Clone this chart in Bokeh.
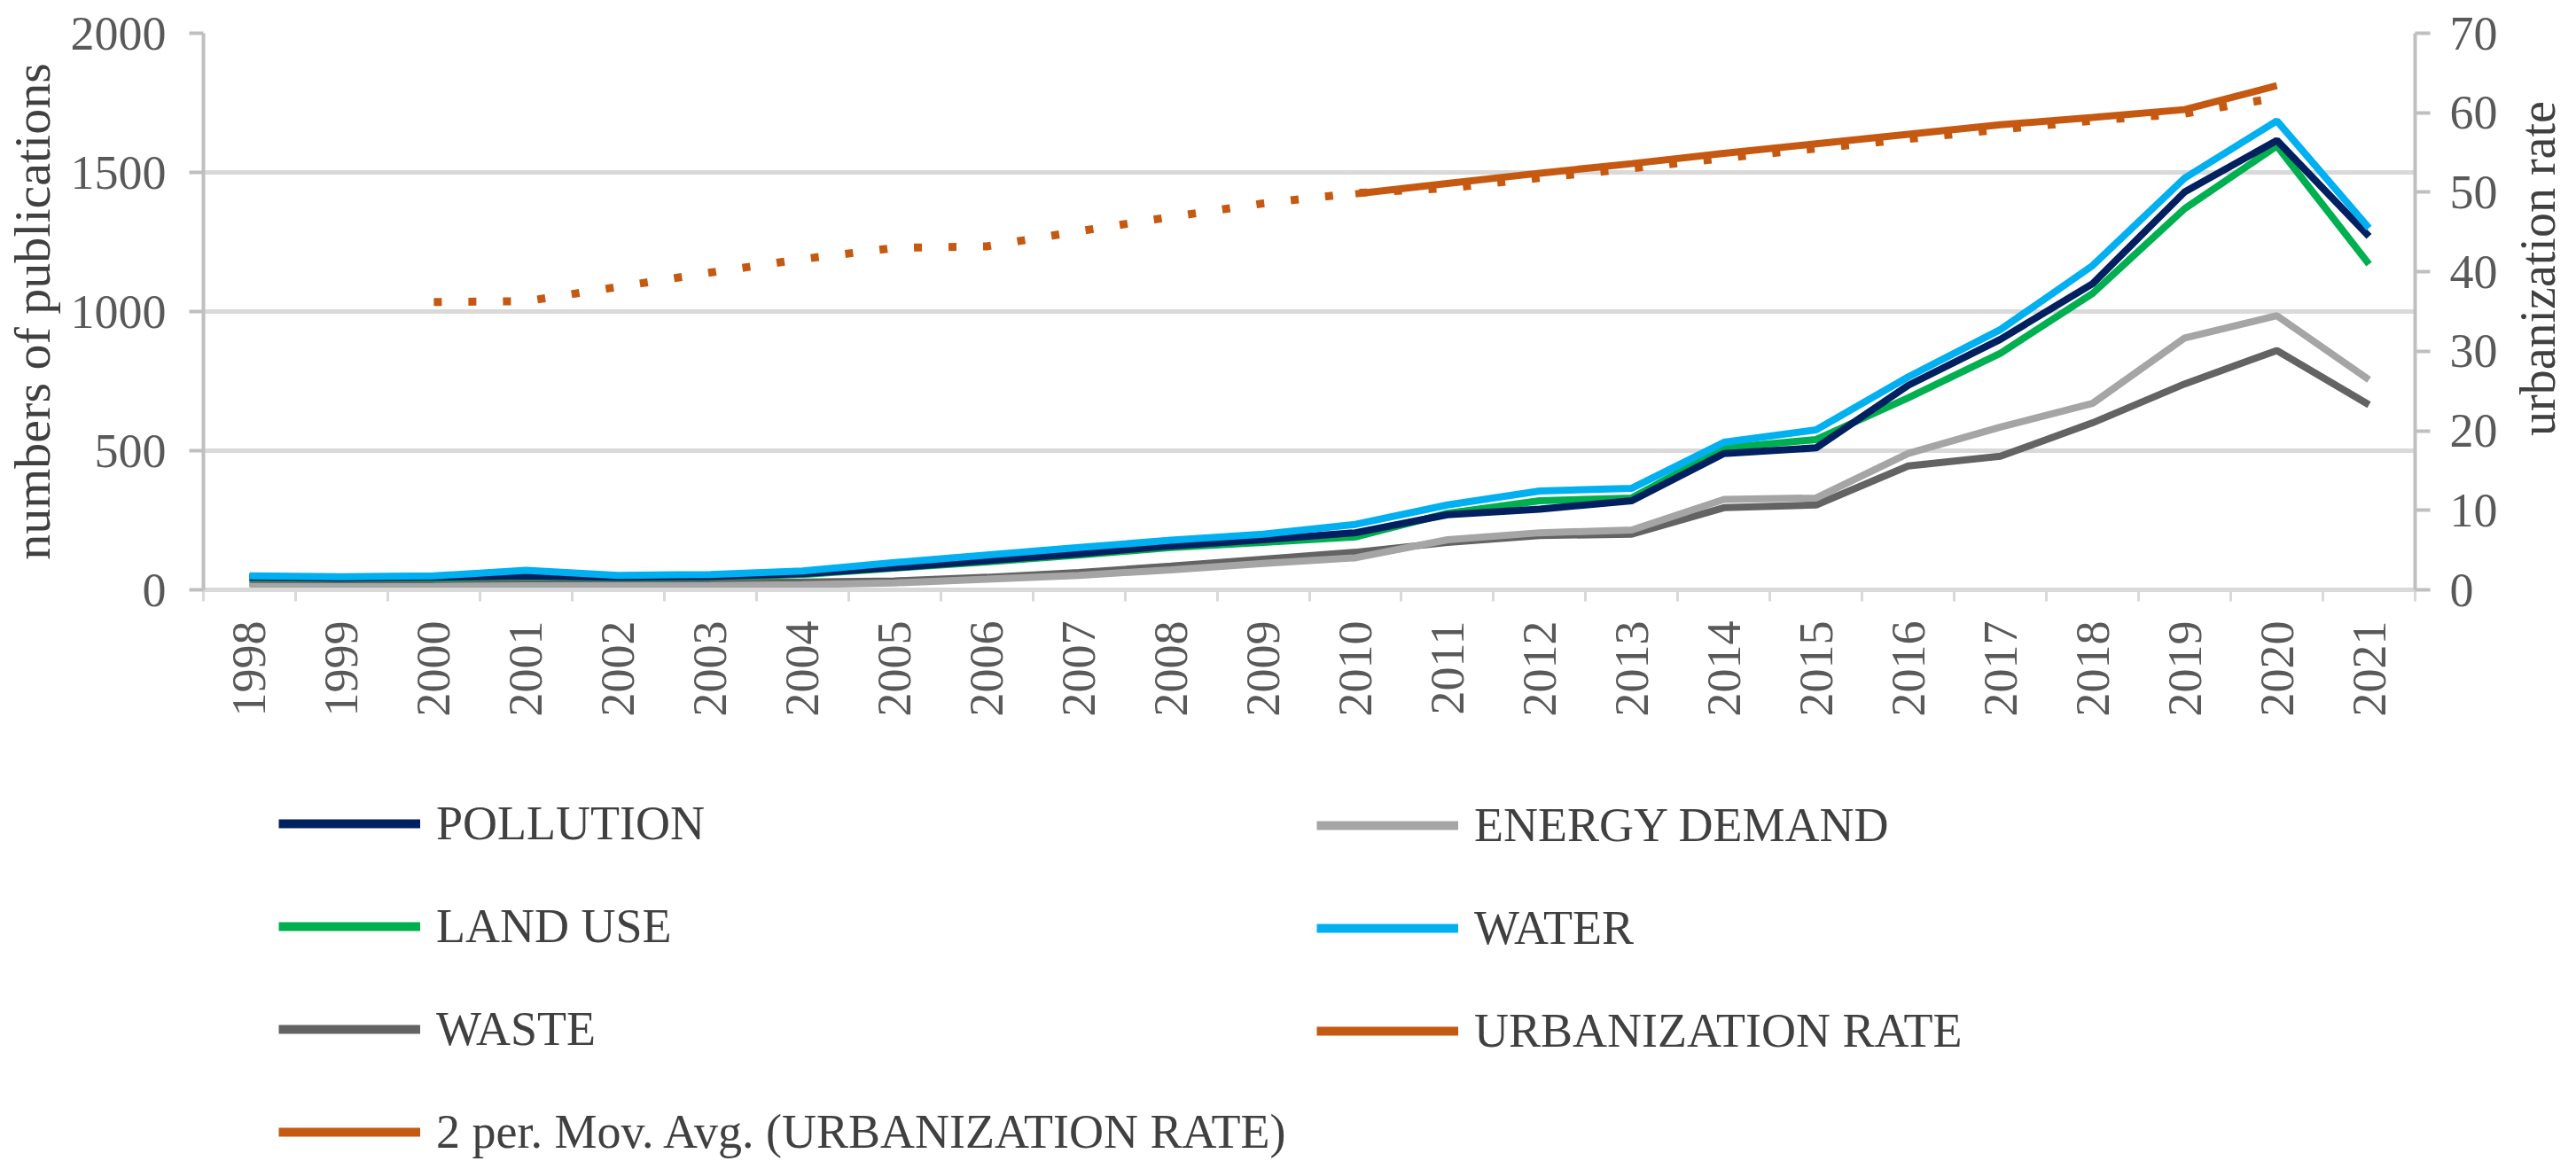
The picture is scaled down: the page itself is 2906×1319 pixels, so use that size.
import math
from bokeh.plotting import figure
from bokeh.layouts import column, row
from bokeh.models import (Range1d, LinearAxis, FixedTicker, Legend, LegendItem,
                          NumeralTickFormatter)
from bokeh.core.properties import value
from bokeh.embed import file_html
from bokeh.resources import INLINE

# ---------------- data ----------------
years = list(range(1998, 2022))
pollution = [45, 42, 45, 50, 45, 48, 58, 80, 105, 130, 158, 180, 205, 270, 290, 320,
             490, 510, 735, 900, 1100, 1430, 1615, 1270]
energy_demand = [12, 11, 12, 14, 14, 15, 18, 25, 38, 52, 72, 95, 115, 180, 205, 215,
                 325, 330, 490, 585, 670, 905, 985, 755]
land_use = [42, 40, 42, 48, 44, 46, 55, 78, 100, 125, 152, 170, 190, 275, 320, 330,
            510, 540, 690, 850, 1065, 1370, 1595, 1170]
water = [50, 47, 50, 70, 52, 55, 68, 98, 125, 152, 178, 200, 235, 305, 355, 365,
         530, 575, 765, 935, 1165, 1480, 1685, 1300]
waste = [25, 22, 24, 26, 26, 27, 28, 32, 45, 62, 85, 110, 135, 170, 195, 200,
         295, 305, 445, 480, 600, 740, 860, 665]

urb_years = list(range(2010, 2021))
urbanization_rate = [49.8, 51.1, 52.4, 53.6, 54.9, 56.1, 57.3, 58.5, 59.4, 60.4, 63.4]

ma_years = list(range(2000, 2021))
mov_avg_urbanization = [36.2, 36.3, 38.1, 39.9, 41.6, 43.0, 43.2, 45.1, 46.9, 48.6, 49.9,
                        50.5, 51.8, 53.0, 54.3, 55.5, 56.7, 57.9, 59.0, 59.9, 61.9]

left_ticks = [0, 500, 1000, 1500, 2000]
right_ticks = [0, 10, 20, 30, 40, 50, 60, 70]

series_names = ["POLLUTION", "ENERGY DEMAND", "LAND USE", "WATER", "WASTE",
                "URBANIZATION RATE", "2 per. Mov. Avg. (URBANIZATION RATE)"]
left_title = "numbers of publications"
right_title = "urbanization rate"

# ---------------- styling ----------------
FONT = "Liberation Serif"
TICK_COLOR = "#595959"
TITLE_COLOR = "#404040"
AXIS_GRAY = "#bfbfbf"
GRID_GRAY = "#d9d9d9"
NAVY = "#002060"
LIGHT_GRAY = "#a5a5a5"
GREEN = "#00b050"
BLUE = "#00b0f0"
DARK_GRAY = "#636363"
ORANGE = "#c65911"

MAIN_W, MAIN_H = 2820, 830
RT_W = 78
LEG_H = 480
BORDER_TOP, BORDER_BOTTOM = 37, 165

p = figure(width=MAIN_W, height=MAIN_H, output_backend="svg", toolbar_location=None,
           x_range=Range1d(1997.5, 2021.5), y_range=Range1d(0, 2000),
           min_border_left=227, min_border_right=95, min_border_top=BORDER_TOP,
           min_border_bottom=BORDER_BOTTOM)
p.outline_line_color = None
p.background_fill_color = "white"
p.border_fill_color = "white"

p.xgrid.visible = False
p.ygrid.ticker = FixedTicker(ticks=[500, 1000, 1500, 2000])
p.ygrid.grid_line_color = GRID_GRAY
p.ygrid.grid_line_width = 5

# bottom (category) axis
xa = p.xaxis[0]
xa.ticker = FixedTicker(ticks=years, minor_ticks=[y - 0.5 for y in years] + [years[-1] + 0.5])
xa.formatter = NumeralTickFormatter(format="0")
xa.major_tick_out = 0
xa.major_tick_in = 0
xa.minor_tick_out = 13
xa.minor_tick_in = 0
xa.minor_tick_line_color = GRID_GRAY
xa.minor_tick_line_width = 3
xa.axis_line_color = GRID_GRAY
xa.axis_line_width = 5
xa.major_label_orientation = math.pi / 2
xa.major_label_standoff = 22
xa.major_label_text_font = FONT
xa.major_label_text_font_size = "54px"
xa.major_label_text_color = TICK_COLOR

# left axis
ya = p.yaxis[0]
ya.ticker = FixedTicker(ticks=left_ticks)
ya.axis_line_color = AXIS_GRAY
ya.axis_line_width = 4
ya.major_tick_out = 16
ya.major_tick_in = 0
ya.major_tick_line_color = AXIS_GRAY
ya.major_tick_line_width = 4
ya.minor_tick_line_color = None
ya.major_label_standoff = 26
ya.major_label_text_font = FONT
ya.major_label_text_font_size = "54px"
ya.major_label_text_color = TICK_COLOR
ya.axis_label = left_title
ya.axis_label_text_font = FONT
ya.axis_label_text_font_size = "58px"
ya.axis_label_text_font_style = "normal"
ya.axis_label_text_color = TITLE_COLOR
ya.axis_label_standoff = 8

# right axis
p.extra_y_ranges = {"urb": Range1d(0, 70)}
ra = LinearAxis(y_range_name="urb", ticker=FixedTicker(ticks=right_ticks))
ra.axis_line_color = AXIS_GRAY
ra.axis_line_width = 4
ra.major_tick_out = 17
ra.major_tick_in = 0
ra.major_tick_line_color = AXIS_GRAY
ra.major_tick_line_width = 4
ra.minor_tick_line_color = None
ra.major_label_standoff = 22
ra.major_label_text_font = FONT
ra.major_label_text_font_size = "54px"
ra.major_label_text_color = TICK_COLOR
p.add_layout(ra, "right")

# ---------------- series ----------------
LW = 8
r_waste = p.line(years, waste, line_color=DARK_GRAY, line_width=LW)
r_energy = p.line(years, energy_demand, line_color=LIGHT_GRAY, line_width=LW)
r_land = p.line(years, land_use, line_color=GREEN, line_width=LW)
r_poll = p.line(years, pollution, line_color=NAVY, line_width=LW)
r_water = p.line(years, water, line_color=BLUE, line_width=LW)
r_ma = p.line(ma_years, mov_avg_urbanization, line_color=ORANGE, line_width=9,
              line_dash="9 30", y_range_name="urb")
r_urb = p.line(urb_years, urbanization_rate, line_color=ORANGE, line_width=8,
               y_range_name="urb")

# ---------------- right-axis title (reads bottom-to-top) ----------------
frame_mid_frac = (BORDER_BOTTOM + (MAIN_H - BORDER_TOP - BORDER_BOTTOM) / 2) / MAIN_H
prt = figure(width=RT_W, height=MAIN_H, output_backend="svg", toolbar_location=None,
             x_range=Range1d(0, 1), y_range=Range1d(0, 1),
             x_axis_type=None, y_axis_type=None, min_border=0)
prt.outline_line_color = None
prt.grid.visible = False
prt.text(x=[0.55], y=[frame_mid_frac], text=[right_title], angle=math.pi / 2,
         text_align="center", text_baseline="middle", text_font=value(FONT),
         text_font_size="56px", text_color=TITLE_COLOR)

# ---------------- legend panel ----------------
pl = figure(width=MAIN_W + RT_W, height=LEG_H, output_backend="svg",
            toolbar_location=None, x_range=Range1d(0, 1), y_range=Range1d(0, 1),
            x_axis_type=None, y_axis_type=None, min_border=0)
pl.outline_line_color = None
pl.grid.visible = False

# legend keys: same series, drawn outside this panel's visible range (only the keys show)
k_poll = pl.line(years, pollution, line_color=NAVY, line_width=10)
k_energy = pl.line(years, energy_demand, line_color=LIGHT_GRAY, line_width=10)
k_land = pl.line(years, land_use, line_color=GREEN, line_width=10)
k_water = pl.line(years, water, line_color=BLUE, line_width=10)
k_waste = pl.line(years, waste, line_color=DARK_GRAY, line_width=10)
k_urb = pl.line(urb_years, urbanization_rate, line_color=ORANGE, line_width=10)
k_ma = pl.line(ma_years, mov_avg_urbanization, line_color=ORANGE, line_width=10)


def make_legend(items, loc):
    lg = Legend(items=items, location=loc)
    lg.label_text_font = FONT
    lg.label_text_font_size = "54px"
    lg.label_text_color = TITLE_COLOR
    lg.glyph_width = 160
    lg.glyph_height = 60
    lg.label_height = 60
    lg.label_standoff = 18
    lg.spacing = 54
    lg.padding = 0
    lg.margin = 0
    lg.border_line_color = None
    lg.background_fill_alpha = 0
    return lg


leg1 = make_legend([
    LegendItem(label=series_names[0], renderers=[k_poll]),
    LegendItem(label=series_names[2], renderers=[k_land]),
    LegendItem(label=series_names[4], renderers=[k_waste]),
    LegendItem(label=series_names[6], renderers=[k_ma]),
], (314, 2))
leg2 = make_legend([
    LegendItem(label=series_names[1], renderers=[k_energy]),
    LegendItem(label=series_names[3], renderers=[k_water]),
    LegendItem(label=series_names[5], renderers=[k_urb]),
], (1485, 116))
pl.add_layout(leg1, "center")
pl.add_layout(leg2, "center")

layout = column(row(p, prt, spacing=0), pl, spacing=0)
open("out.html", "w").write(file_html(layout, INLINE))
